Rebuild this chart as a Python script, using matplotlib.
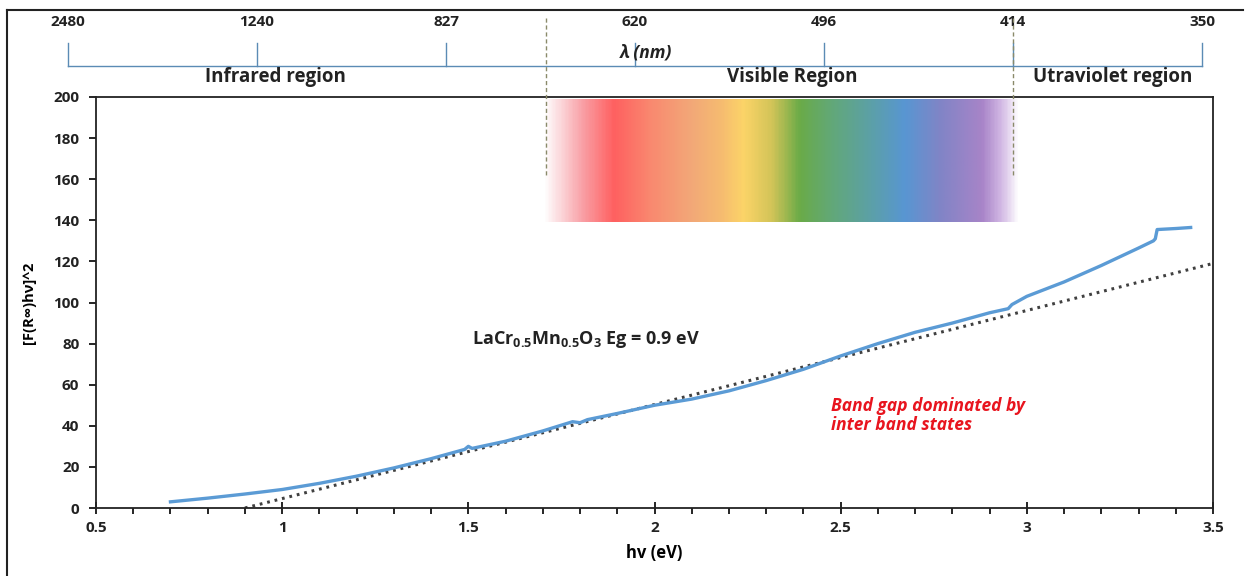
import numpy as np
import matplotlib
matplotlib.use("Agg")
import matplotlib.pyplot as plt
from matplotlib.colors import LinearSegmentedColormap
from matplotlib.lines import Line2D
from matplotlib.transforms import blended_transform_factory

plt.rcParams['font.family'] = ['Open Sans', 'DejaVu Sans']
plt.rcParams['mathtext.fontset'] = 'custom'
plt.rcParams['mathtext.bf'] = 'Open Sans:bold'
plt.rcParams['mathtext.default'] = 'bf'

# measured curve [F(R)hv]^2 vs hv
hv = [0.70, 0.80, 0.90, 1.00, 1.10, 1.20, 1.30, 1.40, 1.49, 1.50, 1.51,
      1.60, 1.70, 1.78, 1.80, 1.82, 1.90, 2.00, 2.10, 2.20, 2.30, 2.40,
      2.50, 2.60, 2.70, 2.80, 2.90, 2.95, 2.96, 3.00, 3.10, 3.20, 3.30,
      3.34, 3.345, 3.35, 3.40, 3.44]
fr = [3.0, 4.8, 6.8, 9.0, 12.0, 15.5, 19.5, 24.0, 28.5, 30.0, 29.0,
      32.5, 37.5, 42.0, 41.5, 43.0, 46.0, 50.0, 53.0, 57.0, 62.0, 67.5,
      74.0, 80.0, 85.5, 90.0, 95.0, 97.0, 99.0, 103.0, 110.0, 118.0, 126.5,
      130.0, 131.0, 135.5, 136.0, 136.5]

# linear fit (Tauc extrapolation)
fit_x = [0.9, 3.5]
fit_y = [0.0, 119.0]

# top wavelength scale
top_ev = [0.5, 1.0, 1.5, 2.0, 2.5, 3.0, 3.5]
top_nm = ['2480', '1240', '827', '620', '496', '414', '350']
visible_ev = [1.765, 3.0]
regions = ['Infrared region', 'Visible Region', 'Utraviolet region']
region_ev = [1.05, 2.415, 3.265]

# rainbow strip
spec_x = [1.70, 2.98]
spec_y = [139, 198.5]
spec_stops = [(0.0, '#ffffff'), (0.04, '#fbd0d4'), (0.08, '#f9a0a6'),
              (0.147, '#ff6060'), (0.227, '#f98a70'), (0.31, '#f2a878'),
              (0.375, '#f6bc70'), (0.42, '#fcd468'), (0.48, '#d2c458'),
              (0.539, '#6aab48'), (0.606, '#62a878'), (0.69, '#5ca0a8'),
              (0.76, '#5896d2'), (0.838, '#8284c6'), (0.924, '#a884c8'),
              (0.964, '#d2b8e4'), (1.0, '#ffffff')]

W, H = 1252, 576
fig = plt.figure(figsize=(W / 100, H / 100), dpi=100)

ax = fig.add_axes([96 / W, 1 - 508 / H, (1213 - 96) / W, (508 - 97) / H])
cmap = LinearSegmentedColormap.from_list('spec', spec_stops)
grad = np.linspace(0, 1, 400).reshape(1, -1)
ax.imshow(grad, cmap=cmap, aspect='auto', extent=[spec_x[0], spec_x[1], spec_y[0], spec_y[1]],
          interpolation='bilinear', zorder=1)

ax.plot(fit_x, fit_y, color='#404040', lw=2.2, linestyle=(0, (0.9, 1.6)), zorder=2)
ax.plot(hv, fr, color='#5b9bd5', lw=2.4, zorder=3, solid_joinstyle='round')

ax.set_xlim(0.5, 3.5)
ax.set_ylim(0, 200)
ax.set_xticks(np.arange(0.5, 3.51, 0.5))
ax.set_xticklabels(['0.5', '1', '1.5', '2', '2.5', '3', '3.5'])
ax.set_xticks(np.arange(0.5, 3.51, 0.1), minor=True)
ax.set_yticks(np.arange(0, 201, 20))
ax.tick_params(axis='x', which='major', direction='inout', length=9, width=1.2, labelsize=11, pad=5)
ax.tick_params(axis='x', which='minor', direction='out', length=4, width=1.2)
ax.tick_params(axis='y', direction='out', length=5, width=1.2, labelsize=11, pad=7)
for lab in ax.get_xticklabels() + ax.get_yticklabels():
    lab.set_fontweight('bold')
    lab.set_color('#222222')
for s in ax.spines.values():
    s.set_linewidth(1.3)
    s.set_color('#222222')

ax.set_xlabel('hv (eV)', fontsize=12, fontweight='bold', labelpad=6)
ax.set_ylabel('[F(R∞)hν]^2', fontsize=10.5, fontweight='bold')
ax.yaxis.set_label_coords(-0.054, 0.5)

ax.text(1.51, 82, r'LaCr$_{0.5}$Mn$_{0.5}$O$_3$ Eg = 0.9 eV', fontsize=13, fontweight='bold',
        color='#222222', va='center')
ax.text(2.475, 54, 'Band gap dominated by\ninter band states', fontsize=12.5, fontweight='bold',
        style='italic', color='#e8141e', va='top', linespacing=1.1)

# top wavelength scale
axt = fig.add_axes([68 / W, 1 - 70 / H, (1202 - 68) / W, 40 / H])
axt.set_xlim(0.5, 3.5)
axt.set_ylim(0, 1)
axt.axis('off')
line_y = 4 / 40
tick_top = 27 / 40
axt.plot([top_ev[0], top_ev[-1]], [line_y, line_y], color='#5b8bb5', lw=1.0, clip_on=False)
for e, lab in zip(top_ev, top_nm):
    axt.plot([e, e], [line_y, tick_top], color='#5b8bb5', lw=1.0, clip_on=False)
    axt.text(e, 1.0 + 8 / 40, lab, ha='center', va='center', fontsize=11, fontweight='bold',
             color='#222222')
axt.text(2.03, 18 / 40, 'λ (nm)', ha='center', va='center', fontsize=12.5, fontweight='bold',
         style='italic', color='#222222')
for name, e in zip(regions, region_ev):
    axt.text(e, -7 / 40, name, ha='center', va='center', fontsize=13.5, fontweight='bold',
             color='#222222')

tr = blended_transform_factory(axt.transData, fig.transFigure)
for e in visible_ev:
    fig.add_artist(Line2D([e, e], [1 - 18 / H, 1 - 176 / H], transform=tr, color='#8a8a6a',
                          lw=1.0, linestyle=(0, (3, 2))))

# outer frame
fig.add_artist(Line2D([7 / W, 7 / W], [0, 1 - 10 / H], color='#222222', lw=1.5))
fig.add_artist(Line2D([7 / W, 1243 / W], [1 - 10 / H, 1 - 10 / H], color='#222222', lw=1.5))

fig.savefig('out.png', dpi=100)
